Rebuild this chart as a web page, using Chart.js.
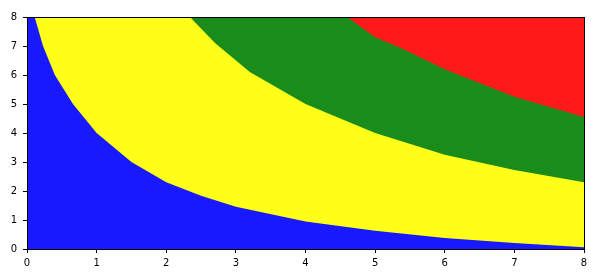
<!DOCTYPE html>
<html>
<head>
<meta charset="utf-8">
<script src="https://cdn.jsdelivr.net/npm/chart.js@4"></script>
<style>
  html, body { margin: 0; padding: 0; background: #fff; }
  #wrap { width: 600px; height: 280px; }
</style>
</head>
<body>
<div id="wrap"><canvas id="chart" width="600" height="280"></canvas></div>
<script>
// --- boundaries between the filled bands ---
const topX = [0, 8];
const topY = [8, 8];

const redX = [0, 4.6, 5.0, 5.4, 6.0, 7.0, 8.0];
const redY = [8, 8, 7.3, 6.9, 6.2, 5.25, 4.55];

const greenX = [0, 2.34, 2.7, 3.2, 4.0, 5.0, 6.0, 7.0, 8.0];
const greenY = [8, 8, 7.1, 6.1, 5.0, 4.0, 3.25, 2.72, 2.3];

const blueX = [0, 0.11, 0.23, 0.4, 0.66, 1.0, 1.5, 2.0, 2.5, 3.0, 4.0, 5.0, 6.0, 7.0, 8.0];
const blueY = [8, 8, 7.0, 6.0, 5.0, 4.0, 3.0, 2.3, 1.84, 1.46, 0.95, 0.63, 0.38, 0.21, 0.06];

const tickValues = [0, 1, 2, 3, 4, 5, 6, 7, 8];

const toPoints = (xs, ys) => xs.map((x, i) => ({ x: x, y: ys[i] }));

const band = (xs, ys, color, order) => ({
    data: toPoints(xs, ys),
    backgroundColor: color,
    borderWidth: 0,
    pointRadius: 0,
    fill: 'origin',
    tension: 0,
    order: order
});

// frame around the plot area
const framePlugin = {
    id: 'frame',
    afterDraw(chart) {
        const { ctx, chartArea: a } = chart;
        ctx.save();
        ctx.strokeStyle = '#000';
        ctx.lineWidth = 1;
        ctx.strokeRect(Math.round(a.left) + 0.5, Math.round(a.top) + 0.5,
            Math.round(a.right - a.left), Math.round(a.bottom - a.top));
        ctx.restore();
    }
};

const axisTicks = {
    color: '#000',
    font: { family: 'DejaVu Sans', size: 10 },
};

new Chart(document.getElementById('chart').getContext('2d'), {
    type: 'line',
    data: {
        datasets: [
            band(blueX, blueY, 'rgb(25,25,255)', 1),
            band(greenX, greenY, 'rgb(255,255,25)', 2),
            band(redX, redY, 'rgb(25,140,25)', 3),
            band(topX, topY, 'rgb(255,25,25)', 4)
        ]
    },
    options: {
        responsive: false,
        animation: false,
        layout: { padding: { left: 0, right: 16, top: 17, bottom: 11 } },
        plugins: { legend: { display: false }, tooltip: { enabled: false } },
        scales: {
            x: {
                type: 'linear',
                min: 0,
                max: 8,
                afterBuildTicks: s => { s.ticks = tickValues.map(v => ({ value: v })); },
                afterFit: s => { s.height = 20; },
                border: { display: false },
                grid: { drawOnChartArea: false, drawTicks: true, tickLength: 4, color: '#000' },
                ticks: { ...axisTicks, padding: 4, maxRotation: 0 }
            },
            y: {
                type: 'linear',
                min: 0,
                max: 8,
                afterBuildTicks: s => { s.ticks = tickValues.map(v => ({ value: v })); },
                afterFit: s => { s.width = 27; },
                border: { display: false },
                grid: { drawOnChartArea: false, drawTicks: true, tickLength: 4, color: '#000' },
                ticks: { ...axisTicks, padding: 6 }
            }
        }
    },
    plugins: [framePlugin]
});
</script>
</body>
</html>
